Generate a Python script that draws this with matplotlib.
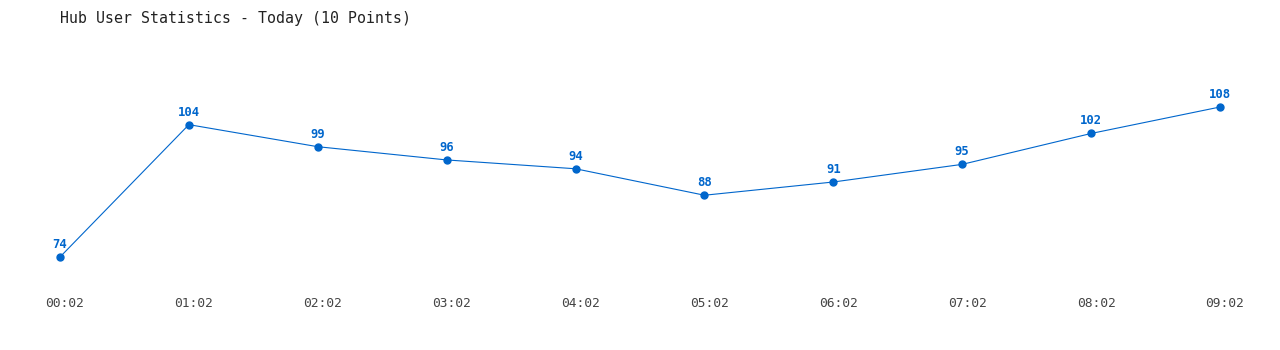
import matplotlib
matplotlib.use("Agg")
import matplotlib.pyplot as plt
from matplotlib.transforms import ScaledTranslation

times = ["00:02", "01:02", "02:02", "03:02", "04:02",
         "05:02", "06:02", "07:02", "08:02", "09:02"]
users = [74, 104, 99, 96, 94, 88, 91, 95, 102, 108]

BLUE = "#0066cc"
FONT = "DejaVu Sans Mono"

fig = plt.figure(figsize=(12.8, 3.5), dpi=100)
fig.patch.set_facecolor("white")

# axes placed so data points land at the reference pixel positions
ax = fig.add_axes([60 / 1280, 1 - 257 / 350, 1160 / 1280, 150 / 350])
x = list(range(len(times)))
ax.plot(x, users, color=BLUE, linewidth=0.8, marker="o", markersize=5,
        clip_on=False)
ax.set_xlim(0, len(times) - 1)
ax.set_ylim(min(users), max(users))

for xi, v in zip(x, users):
    ax.annotate(str(v), (xi, v), xytext=(0, 6.5), textcoords="offset points",
                ha="center", va="baseline", color=BLUE, fontsize=8.8,
                fontweight="bold", family=FONT)

ax.set_xticks(x)
ax.set_xticklabels(times, family=FONT, fontsize=9.3, color="#444444")
ax.tick_params(axis="x", length=0, pad=29)
# labels sit a few pixels right of the points in the reference
shift = ScaledTranslation(5 / 100, 0, fig.dpi_scale_trans)
for lbl in ax.get_xticklabels():
    lbl.set_transform(lbl.get_transform() + shift)
ax.set_yticks([])
for s in ax.spines.values():
    s.set_visible(False)

fig.text(60 / 1280, 1 - 18 / 350, "Hub User Statistics - Today (10 Points)",
         family=FONT, fontsize=10.7, color="#222222", ha="left", va="center")

fig.savefig("out.png", dpi=100, facecolor="white")
